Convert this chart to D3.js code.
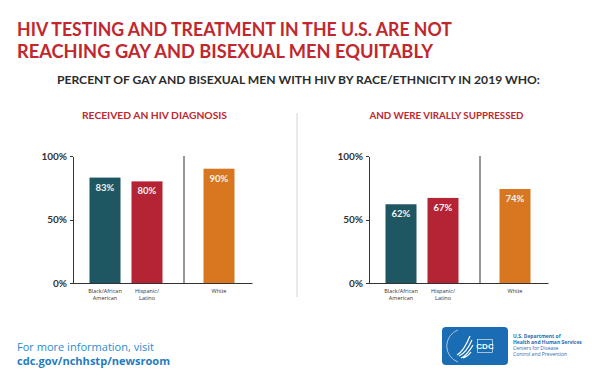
<!DOCTYPE html>
<html>
<head>
<meta charset="utf-8">
<style>
  body { margin: 0; background: #fff; }
  svg { display: block; }
  .axis path, .axis line { stroke: #333; shape-rendering: crispEdges; }
  .axis text { font: bold 10px Lato, sans-serif; fill: #333; }
</style>
</head>
<body>
<svg width="600" height="385"></svg>
<script src="https://d3js.org/d3.v7.min.js"></script>
<script>
// data
var categories = ["Black/African American", "Hispanic/Latino", "White"];
var catLines = [["Black/African", "American"], ["Hispanic/", "Latino"], ["White"]];
var diagnosed = [83, 80, 90];
var suppressed = [62, 67, 74];
var yTicks = [0, 50, 100];
var panelTitles = ["RECEIVED AN HIV DIAGNOSIS", "AND WERE VIRALLY SUPPRESSED"];
var colors = ["#1e5661", "#b42435", "#d8771f"];

var svg = d3.select("svg");
var red = "#c1272d";

// headline
svg.append("text").attr("x", 17).attr("y", 36)
  .attr("textLength", 435).attr("lengthAdjust", "spacingAndGlyphs")
  .style("font", "bold 18.5px Lato, sans-serif").attr("fill", red)
  .text("HIV TESTING AND TREATMENT IN THE U.S. ARE NOT");
svg.append("text").attr("x", 17).attr("y", 58)
  .attr("textLength", 416).attr("lengthAdjust", "spacingAndGlyphs")
  .style("font", "bold 18.5px Lato, sans-serif").attr("fill", red)
  .text("REACHING GAY AND BISEXUAL MEN EQUITABLY");
svg.append("text").attr("x", 57).attr("y", 84)
  .attr("textLength", 483).attr("lengthAdjust", "spacingAndGlyphs")
  .style("font", "bold 11px Lato, sans-serif").attr("fill", "#2b2b2b")
  .text("PERCENT OF GAY AND BISEXUAL MEN WITH HIV BY RACE/ETHNICITY IN 2019 WHO:");

// panel separator
svg.append("line").attr("x1", 297).attr("x2", 297).attr("y1", 113).attr("y2", 297)
  .attr("stroke", "#d4d4d4").attr("stroke-width", 1);

var y = d3.scaleLinear().domain([0, 100]).range([283, 156]);
var x = d3.scaleBand().domain(categories).range([17, 132]).paddingInner(11 / 42).paddingOuter(0);
var groupGap = 30; // extra space before the White bar
function bx(c) { return x(c) + (c === "White" ? groupGap : 0); }

function panel(ox, values, title, titleX, titleW) {
  var g = svg.append("g").attr("transform", "translate(" + ox + ",0)");

  g.append("text").attr("x", titleX).attr("y", 119).attr("text-anchor", "middle")
    .attr("textLength", titleW).attr("lengthAdjust", "spacingAndGlyphs")
    .style("font", "bold 9px Lato, sans-serif").attr("fill", red)
    .text(title);

  var rows = categories.map(function(c, i) { return {cat: c, v: values[i], lines: catLines[i], color: colors[i]}; });

  g.selectAll("rect.bar").data(rows).enter().append("rect")
    .attr("class", "bar")
    .attr("x", function(d) { return bx(d.cat); })
    .attr("y", function(d) { return y(d.v); })
    .attr("width", x.bandwidth())
    .attr("height", function(d) { return y(0) - y(d.v); })
    .attr("fill", function(d) { return d.color; });

  g.selectAll("text.val").data(rows).enter().append("text")
    .attr("class", "val")
    .attr("x", function(d) { return bx(d.cat) + x.bandwidth() / 2; })
    .attr("y", function(d) { return y(d.v) + 13; })
    .attr("text-anchor", "middle")
    .style("font", "bold 9.5px Lato, sans-serif").attr("fill", "#f4f4f4")
    .text(function(d) { return d.v + "%"; });

  // divider between groups
  var hisp = bx("Hispanic/Latino") + x.bandwidth();
  var dx = Math.round((hisp + bx("White")) / 2) + 0.5;
  g.append("line").attr("x1", dx).attr("x2", dx).attr("y1", y(100)).attr("y2", y(0))
    .attr("stroke", "#333").attr("stroke-width", 1);

  // baseline
  g.append("line").attr("x1", 0).attr("x2", 180).attr("y1", y(0) + 0.5).attr("y2", y(0) + 0.5)
    .attr("stroke", "#333").attr("stroke-width", 1);

  var lab = g.selectAll("text.cat").data(rows).enter().append("text")
    .attr("class", "cat")
    .attr("text-anchor", "middle")
    .style("font", "5.5px 'Open Sans', sans-serif").attr("fill", "#333");
  lab.selectAll("tspan").data(function(d) {
      return d.lines.map(function(t) { return {t: t, cx: bx(d.cat) + x.bandwidth() / 2}; });
    }).enter().append("tspan")
    .attr("x", function(d) { return d.cx; })
    .attr("y", function(d, i) { return 293 + i * 7; })
    .text(function(d) { return d.t; });

  g.append("g").attr("class", "axis")
    .attr("transform", "translate(0.5,0)")
    .call(d3.axisLeft(y).tickValues(yTicks).tickSize(3).tickSizeOuter(0).tickPadding(3)
      .tickFormat(function(d) { return d + "%"; }));
}

panel(72.5, diagnosed, panelTitles[0], 82, 145);
panel(368.5, suppressed, panelTitles[1], 78, 154);

// footer
var blue = "#2a8bd0";
svg.append("text").attr("x", 17).attr("y", 351)
  .style("font", "10.5px 'Open Sans', sans-serif").attr("fill", blue)
  .attr("textLength", 137).attr("lengthAdjust", "spacingAndGlyphs")
  .text("For more information, visit");
svg.append("text").attr("x", 17).attr("y", 365)
  .style("font", "bold 10.5px 'Open Sans', sans-serif").attr("fill", "#1f7cc2")
  .attr("textLength", 153).attr("lengthAdjust", "spacingAndGlyphs")
  .text("cdc.gov/nchhstp/newsroom");

// logo
var logo = svg.append("g");
var lb = "#1b6db3";
logo.append("rect").attr("x", 442).attr("y", 327).attr("width", 66).attr("height", 38).attr("rx", 4).attr("fill", lb);
logo.append("path").attr("d", "M458,330 A17,17 0 0,0 458,362").attr("fill", "none").attr("stroke", "#fff").attr("stroke-width", 0.6);
logo.append("path").attr("d", "M457,355 C462,352 466,346 470,336 M459,356 C464,354 468,349 472,340 M461,358 C466,356 469,352 473,345 M463,358 C466,357 469,355 471,352")
  .attr("fill", "none").attr("stroke", "#fff").attr("stroke-width", 1.2);
logo.append("rect").attr("x", 477.5).attr("y", 339.5).attr("width", 15).attr("height", 13).attr("fill", "none").attr("stroke", "#fff").attr("stroke-width", 0.6);
logo.append("text").attr("x", 485).attr("y", 349).attr("text-anchor", "middle")
  .style("font", "bold 8px 'Liberation Sans', sans-serif").attr("fill", "#fff").text("CDC");
var orgLines = [["U.S. Department of", true], ["Health and Human Services", true], ["Centers for Disease", false], ["Control and Prevention", false]];
svg.selectAll("text.org").data(orgLines).enter().append("text")
  .attr("class", "org").attr("x", 513).attr("y", function(d, i) { return 338 + i * 6; })
  .style("font", function(d) { return (d[1] ? "bold " : "") + "5px 'Open Sans', sans-serif"; })
  .attr("fill", lb).text(function(d) { return d[0]; });
</script>
</body>
</html>
